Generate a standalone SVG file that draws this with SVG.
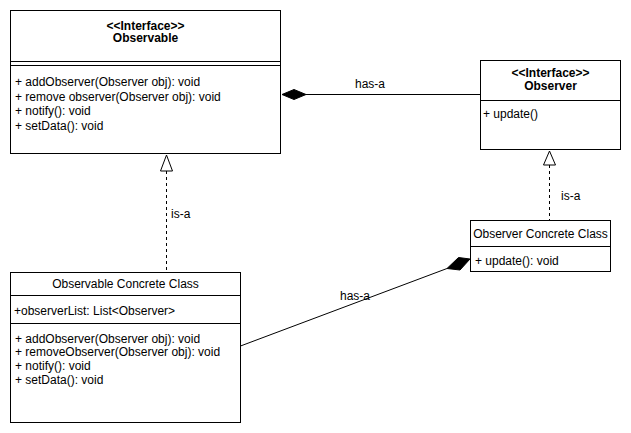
<svg xmlns="http://www.w3.org/2000/svg" width="631" height="433" viewBox="0 0 631 433">
  <style>
    .box { fill: #ffffff; stroke: #000000; stroke-width: 1; }
    .sep { stroke: #000000; stroke-width: 1; fill: none; }
    text { font-family: "Liberation Sans", Arial, Helvetica, sans-serif; font-size: 12px; fill: #000000; }
    .bold { font-weight: bold; }
    .mid { text-anchor: middle; }
    .edge { stroke: #000000; stroke-width: 1; fill: none; }
    .dash { stroke-dasharray: 3 3; }
    .filled { fill: #000000; stroke: #000000; stroke-width: 1; }
    .hollow { fill: #ffffff; stroke: #000000; stroke-width: 1; }
  </style>
  <rect x="0" y="0" width="631" height="433" fill="#ffffff"/>

  <!-- Observable interface -->
  <g id="observable">
    <rect class="box" x="10.5" y="10.5" width="270" height="143"/>
    <text class="bold mid" x="145.5" y="29.5">&lt;&lt;Interface&gt;&gt;</text>
    <text class="bold mid" x="145.5" y="42">Observable</text>
    <line class="sep" x1="10.5" y1="61.5" x2="280.5" y2="61.5"/>
    <line class="sep" x1="10.5" y1="65.5" x2="280.5" y2="65.5"/>
    <text x="15" y="85.5">+ addObserver(Observer obj): void</text>
    <text x="15" y="100.5">+ remove observer(Observer obj): void</text>
    <text x="15" y="115">+ notify(): void</text>
    <text x="15" y="129.5">+ setData(): void</text>
  </g>

  <!-- Observer interface -->
  <g id="observer">
    <rect class="box" x="480.5" y="60.5" width="140" height="89"/>
    <text class="bold mid" x="550.5" y="76.5">&lt;&lt;Interface&gt;&gt;</text>
    <text class="bold mid" x="550.5" y="90">Observer</text>
    <line class="sep" x1="480.5" y1="100.5" x2="620.5" y2="100.5"/>
    <text x="483" y="117.5">+ update()</text>
  </g>

  <!-- Observable concrete class -->
  <g id="observable-concrete">
    <rect class="box" x="10.5" y="272.5" width="230" height="150"/>
    <text class="mid" x="125.5" y="287.5">Observable Concrete Class</text>
    <line class="sep" x1="10.5" y1="295.5" x2="240.5" y2="295.5"/>
    <text x="14" y="315">+observerList: List&lt;Observer&gt;</text>
    <line class="sep" x1="10.5" y1="323.5" x2="240.5" y2="323.5"/>
    <text x="15" y="342.5">+ addObserver(Observer obj): void</text>
    <text x="15" y="356">+ removeObserver(Observer obj): void</text>
    <text x="15" y="370">+ notify(): void</text>
    <text x="15" y="383.5">+ setData(): void</text>
  </g>

  <!-- Observer concrete class -->
  <g id="observer-concrete">
    <rect class="box" x="470.5" y="220.5" width="140" height="51"/>
    <text class="mid" x="540.5" y="237.5">Observer Concrete Class</text>
    <line class="sep" x1="470.5" y1="246.5" x2="610.5" y2="246.5"/>
    <text x="475" y="264.5">+ update(): void</text>
  </g>

  <!-- Connectors -->
  <g id="connectors">
    <!-- Observable has-a Observer (composition) -->
    <line class="edge" x1="306" y1="94.5" x2="480" y2="94.5"/>
    <polygon class="filled" points="282,94.5 294,89.5 306,94.5 294,99.5"/>
    <text class="mid" x="370" y="87.5">has-a</text>

    <!-- Observable Concrete Class is-a Observable -->
    <line class="edge dash" x1="166.5" y1="171" x2="166.5" y2="272"/>
    <polygon class="hollow" points="166.5,155 172.5,171 160.5,171"/>
    <text x="171" y="217.5">is-a</text>

    <!-- Observer Concrete Class is-a Observer -->
    <line class="edge dash" x1="549.5" y1="165" x2="549.5" y2="220"/>
    <polygon class="hollow" points="549.5,151 555.5,165 543.5,165"/>
    <text x="561" y="199.5">is-a</text>

    <!-- Observable Concrete Class has-a Observer Concrete Class (composition) -->
    <line class="edge" x1="240.5" y1="346" x2="447" y2="268.5"/>
    <polygon class="filled" points="470,259 458.5,257.5 447,268.5 460,270"/>
    <text class="mid" x="355" y="299.5">has-a</text>
  </g>
</svg>
